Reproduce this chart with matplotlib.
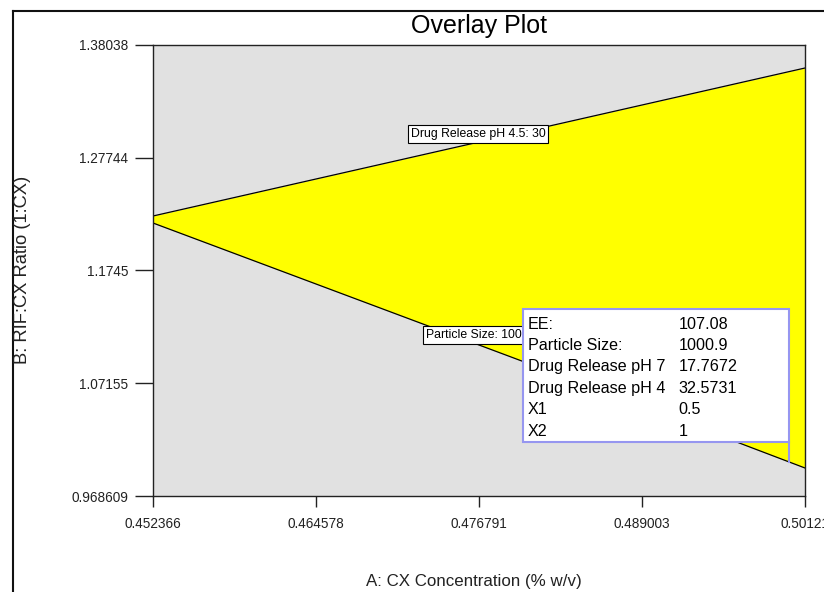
import matplotlib
matplotlib.use("Agg")
import matplotlib.pyplot as plt
from matplotlib.patches import Rectangle
from matplotlib.lines import Line2D
from matplotlib.transforms import Affine2D
from matplotlib import font_manager

# ---- data ----
x_ticks = [0.452366, 0.464578, 0.476791, 0.489003, 0.50121]
x_tick_labels = ["0.452366", "0.464578", "0.476791", "0.489003", "0.50121"]
y_ticks = [0.968609, 1.07155, 1.1745, 1.27744, 1.38038]
y_tick_labels = ["0.968609", "1.07155", "1.1745", "1.27744", "1.38038"]

bound_x = [0.452366, 0.464578, 0.476791, 0.489003, 0.50121]
upper_drug_release = [1.22425, 1.25804, 1.29182, 1.32560, 1.35938]   # Drug Release pH 4.5: 30
lower_particle_size = [1.21786, 1.16217, 1.10647, 1.05078, 0.99417]  # Particle Size: 100

info_labels = ["EE:", "Particle Size:", "Drug Release pH 7", "Drug Release pH 4", "X1", "X2"]
info_values = ["107.08", "1000.9", "17.7672", "32.5731", "0.5", "1"]
flag_point = (0.5, 1.0)

# ---- fonts ----
avail = {f.name for f in font_manager.fontManager.ttflist}
narrow = "Liberation Sans Narrow" if "Liberation Sans Narrow" in avail else "Liberation Sans"
regular = "Liberation Sans"

W, H = 824, 592
fig = plt.figure(figsize=(W / 100, H / 100), dpi=100)
fig.patch.set_facecolor("white")

# outer frame (clipped at right / bottom)
fig.add_artist(Line2D([13 / W, 13 / W], [0, 1 - 11 / H], transform=fig.transFigure, color="#111111", lw=1.5))
fig.add_artist(Line2D([13 / W, 1], [1 - 11 / H, 1 - 11 / H], transform=fig.transFigure, color="#111111", lw=1.5))

ax = fig.add_axes([153 / W, 1 - 496 / H, 652 / W, 451 / H])
ax.set_facecolor("#E1E1E1")
ax.set_xlim(x_ticks[0], x_ticks[-1])
ax.set_ylim(y_ticks[0], y_ticks[-1])

ax.fill_between(bound_x, lower_particle_size, upper_drug_release, color="#FFFF00", lw=0, zorder=1)
ax.plot(bound_x, upper_drug_release, color="black", lw=0.9, zorder=2)
ax.plot(bound_x, lower_particle_size, color="black", lw=0.9, zorder=2)

for s in ax.spines.values():
    s.set_color("#222222")
    s.set_linewidth(1.0)

ax.set_xticks(x_ticks)
ax.set_xticklabels(x_tick_labels, fontfamily=narrow, fontsize=9.8, color="#222222")
ax.set_yticks(y_ticks)
ax.set_yticklabels(y_tick_labels, fontfamily=narrow, fontsize=9.8, color="#222222")
ax.tick_params(axis="x", direction="out", length=8, width=1, pad=7, color="#222222")
ax.tick_params(axis="y", direction="out", length=13, width=1, pad=5, color="#222222")

# contour labels
bb = dict(boxstyle="square,pad=0.25", fc="white", ec="black", lw=0.8)
ax.text(0.476713, 1.29912, "Drug Release pH 4.5: 30", fontsize=8.8, family=regular,
        ha="center", va="center", bbox=bb, zorder=4)
ax.text(0.472818, 1.11560, "Particle Size: 100", fontsize=8.8, family=regular,
        ha="left", va="center", bbox=bb, zorder=4)

# info flag anchored on the flagged point
fig.canvas.draw()
px, py = ax.transData.transform(flag_point)
T = Affine2D().translate(px, py)
ax.add_artist(Line2D([0, 0], [0, 19.6], transform=T, color="#9696F0", lw=1.5, zorder=6))
rect = Rectangle((-266, 19.6), 266, 133, transform=T, fc="white", ec="#9696F0", lw=1.5, zorder=6)
ax.add_artist(rect)
base0 = 462 - 329
for i, (lab, val) in enumerate(zip(info_labels, info_values)):
    yy = base0 - i * 21.4
    ax.text(-261, yy, lab, transform=T, fontsize=11.6, family=regular, ha="left", va="baseline", zorder=7)
    ax.text(-110, yy, val, transform=T, fontsize=11.6, family=regular, ha="left", va="baseline", zorder=7)

# titles
fig.text(479 / W, 1 - 32.5 / H, "Overlay Plot", fontsize=18, family=regular, ha="center", va="baseline")
fig.text(474 / W, 1 - 586 / H, "A: CX Concentration (% w/v)", fontsize=12.2, family=narrow,
         ha="center", va="baseline", color="#222222")
fig.text(23 / W, 1 - 270 / H, "B: RIF:CX Ratio (1:CX)", fontsize=13.2, family=narrow,
         ha="center", va="center", rotation=90, color="#222222")

fig.savefig("out.png", dpi=100)
